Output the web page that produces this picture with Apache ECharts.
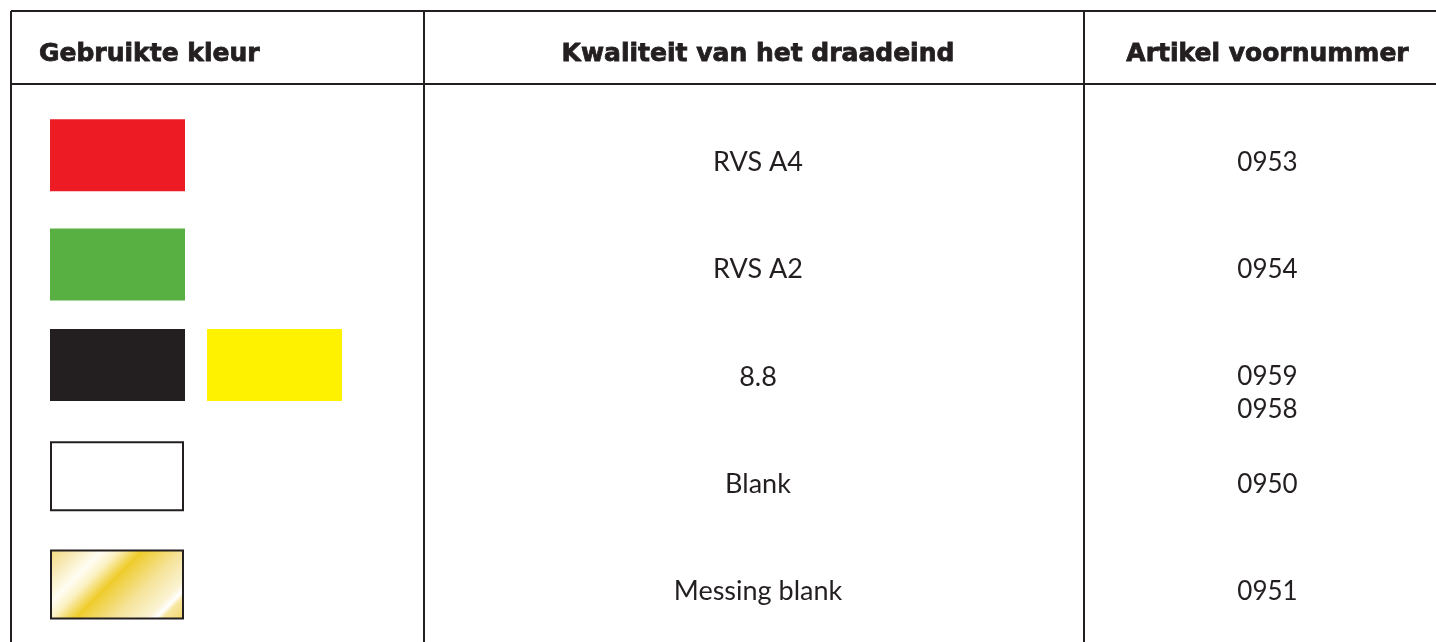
<!DOCTYPE html>
<html><head><meta charset="utf-8">
<script src="https://cdn.jsdelivr.net/npm/echarts@6/dist/echarts.min.js"></script>
<style>html,body{margin:0;padding:0;background:#fff}#c{width:1436px;height:642px}</style>
</head><body><div id="c"></div>
<script>
// ---- data ----
const headers = ['Gebruikte kleur', 'Kwaliteit van het draadeind', 'Artikel voornummer'];
const qualities = ['RVS A4', 'RVS A2', '8.8', 'Blank', 'Messing blank'];
const codes = [['0953'], ['0954'], ['0959', '0958'], ['0950'], ['0951']];
const swatches = [['red'], ['green'], ['black', 'yellow'], ['white'], ['brass']];

// ---- styles ----
const INK = '#231F20';
const brass = new echarts.graphic.LinearGradient(0, 0, 1, 1.9, [
  {offset: 0, color: '#F1D77C'}, {offset: 0.2, color: '#FFFDF2'}, {offset: 0.26, color: '#FBF2C6'},
  {offset: 0.35, color: '#EFCC2C'}, {offset: 0.5, color: '#F5E39A'}, {offset: 0.62, color: '#FBF3D2'},
  {offset: 0.655, color: '#FFFFFF'}, {offset: 0.68, color: '#F7E7A0'}, {offset: 0.77, color: '#F2D565'},
  {offset: 1, color: '#F0D050'}
]);
const swatchStyle = {
  red: {fill: '#ED1C24'}, green: {fill: '#58AF42'}, black: {fill: INK}, yellow: {fill: '#FFF200'},
  white: {fill: '#FFFFFF', stroke: INK, lineWidth: 2}, brass: {fill: brass, stroke: INK, lineWidth: 2}
};
// layout (x in grid pixels, y in row units)
const X_RIGHT = 1425, COL1 = 413, COL2 = 1073;
const Y_TOP = -1.41, Y_HEAD = -0.73, Y_BOT = 4.47, Y_HEADTEXT = -1.0;
const headX = [28, 747, 1256.5], headAlign = ['left', 'center', 'center'];
const SW_X = [39, 196], SW_W = 135, SW_H = 72, SW_DY = [-7, -5, -12, -7, -6];

const chart = echarts.init(document.getElementById('c'));
chart.setOption({
  animation: false,
  grid: {left: 11, top: 11, right: 0, bottom: 0},
  xAxis: {type: 'value', min: 0, max: X_RIGHT, show: false},
  yAxis: {type: 'value', inverse: true, min: Y_TOP, max: Y_BOT, show: false},
  series: [
    { // table rules
      type: 'custom', clip: false, silent: true, data: [[0, 0]],
      renderItem: (p, api) => {
        const L = (a, b) => {
          const p1 = api.coord(a), p2 = api.coord(b);
          return {type: 'line', shape: {x1: p1[0], y1: p1[1], x2: p2[0], y2: p2[1]},
            style: {stroke: INK, lineWidth: 2}};
        };
        return {type: 'group', children: [
          L([0, Y_TOP], [X_RIGHT, Y_TOP]), L([0, Y_HEAD], [X_RIGHT, Y_HEAD]),
          L([0, Y_TOP], [0, Y_BOT]), L([COL1, Y_TOP], [COL1, Y_BOT]), L([COL2, Y_TOP], [COL2, Y_BOT])
        ]};
      }
    },
    { // headers
      type: 'custom', clip: false, silent: true,
      data: headers.map((h, i) => [headX[i], Y_HEADTEXT, i]),
      renderItem: (p, api) => {
        const i = api.value(2), pt = api.coord([api.value(0), api.value(1)]);
        return {type: 'text', x: pt[0], y: pt[1], style: {text: headers[i], fill: INK,
          stroke: INK, lineWidth: 0.8,
          font: 'bold 25px "DejaVu Sans"', textAlign: headAlign[i], textVerticalAlign: 'middle'}};
      }
    },
    { // body rows
      type: 'custom', clip: false, silent: true,
      data: qualities.map((q, i) => [0, i]),
      renderItem: (p, api) => {
        const r = api.value(1);
        const kids = [];
        swatches[r].forEach((s, k) => {
          const pt = api.coord([SW_X[k], r]);
          const st = swatchStyle[s];
          const b = st.stroke ? 1 : 0;
          kids.push({type: 'rect', shape: {x: pt[0] + b, y: pt[1] + SW_DY[r] - SW_H / 2 + b,
            width: SW_W - 3 * b, height: SW_H - 4 * b},
            style: {fill: st.fill, stroke: st.stroke || null, lineWidth: st.lineWidth || 0}});
        });
        const q = api.coord([headX[1], r]);
        kids.push({type: 'text', x: q[0], y: q[1], style: {text: qualities[r], fill: INK,
          font: '27px Lato', textAlign: 'center', textVerticalAlign: 'middle'}});
        codes[r].forEach((c, k) => {
          const cpt = api.coord([headX[2], r]);
          kids.push({type: 'text', x: cpt[0], y: cpt[1] + k * 33, style: {text: c, fill: INK,
            font: '26px Lato', textAlign: 'center', textVerticalAlign: 'middle'}});
        });
        return {type: 'group', children: kids};
      }
    }
  ]
});
</script></body></html>
